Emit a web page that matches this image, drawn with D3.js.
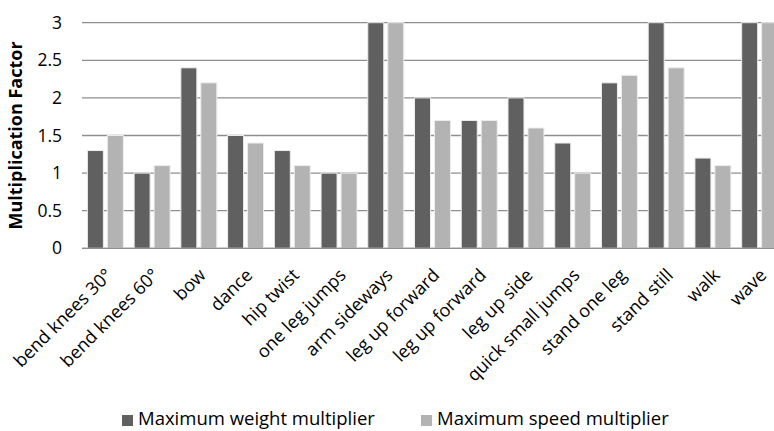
<!DOCTYPE html>
<html>
<head>
<meta charset="utf-8">
<script src="https://cdn.jsdelivr.net/npm/d3@7"></script>
<style>
  body { margin: 0; background: #fff; }
  svg { display: block; font-family: "Open Sans", sans-serif; }
</style>
</head>
<body>
<div id="root"></div>
<script>
// data
const activities = ["bend knees 30°", "bend knees 60°", "bow", "dance", "hip twist", "one leg jumps",
  "arm sideways", "leg up forward", "leg up forward", "leg up side", "quick small jumps",
  "stand one leg", "stand still", "walk", "wave"];
const weightMult = [1.3, 1.0, 2.4, 1.5, 1.3, 1.0, 3.0, 2.0, 1.7, 2.0, 1.4, 2.2, 3.0, 1.2, 3.0];
const speedMult  = [1.5, 1.1, 2.2, 1.4, 1.1, 1.0, 3.0, 1.7, 1.7, 1.6, 1.0, 2.3, 2.4, 1.1, 3.0];
const seriesNames = ["Maximum weight multiplier", "Maximum speed multiplier"];
const yTicks = [0, 0.5, 1, 1.5, 2, 2.5, 3];

const W = 774, H = 431;
const mLeft = 82, mTop = 22.7, plotH = 225.6, plotW = 701;

const colors = ["#606060", "#b3b3b3"];

const svg = d3.select("#root").append("svg")
  .attr("width", W)
  .attr("height", H);

const x = d3.scaleBand()
  .domain(activities.map((d, i) => i))
  .range([mLeft, mLeft + plotW]);

const xGroup = d3.scaleBand()
  .domain([0, 1])
  .range([0, x.bandwidth()])
  .paddingInner(0.2)
  .paddingOuter(0.27);

const y = d3.scaleLinear()
  .domain([0, 3])
  .range([mTop + plotH, mTop]);

// gridlines
svg.append("g")
  .selectAll("line")
  .data(yTicks)
  .enter().append("line")
    .attr("x1", mLeft)
    .attr("x2", mLeft + plotW)
    .attr("y1", d => y(d))
    .attr("y2", d => y(d))
    .attr("stroke", "#8e8e8e")
    .attr("stroke-width", 1.3);

// y labels
const yAxis = svg.append("g")
  .attr("transform", `translate(${mLeft}, 0)`)
  .call(d3.axisLeft(y).tickValues(yTicks).tickSize(0).tickPadding(20).tickFormat(d => d));
yAxis.select(".domain").remove();
yAxis.selectAll("text")
  .attr("font-size", 17.5)
  .attr("fill", "#000")
  .attr("font-family", "Open Sans");

// bars
const rows = activities.map((a, i) => ({i, vals: [weightMult[i], speedMult[i]]}));
svg.append("g")
  .selectAll("g")
  .data(rows)
  .enter().append("g")
    .attr("transform", d => `translate(${x(d.i)},0)`)
    .selectAll("rect")
    .data(d => d.vals.map((v, k) => ({k, v})))
    .enter().append("rect")
      .attr("x", d => xGroup(d.k))
      .attr("y", d => y(d.v))
      .attr("width", xGroup.bandwidth())
      .attr("height", d => y(0) - y(d.v))
      .attr("fill", d => colors[d.k])
      .attr("stroke", "#ececec")
      .attr("stroke-width", 1);

// baseline
svg.append("line")
  .attr("x1", mLeft).attr("x2", mLeft + plotW)
  .attr("y1", y(0)).attr("y2", y(0))
  .attr("stroke", "#8e8e8e")
  .attr("stroke-width", 1.3);

// x labels, rotated
svg.append("g")
  .selectAll("text")
  .data(activities)
  .enter().append("text")
    .attr("transform", (d, i) => `translate(${x(i) + x.bandwidth() / 2 + 8},${y(0) + 28}) rotate(-45)`)
    .attr("text-anchor", "end")
    .attr("font-size", 18)
    .text(d => d);

// y title
svg.append("text")
  .attr("transform", `translate(21.5, ${mTop + plotH / 2}) rotate(-90)`)
  .attr("text-anchor", "middle")
  .attr("font-size", 18)
  .attr("font-weight", "bold")
  .text("Multiplication Factor");

// legend
const legendX = [122, 421];
const legend = svg.append("g")
  .selectAll("g")
  .data(seriesNames)
  .enter().append("g")
    .attr("transform", (d, i) => `translate(${legendX[i]}, 415)`);

legend.append("rect")
  .attr("width", 11)
  .attr("height", 11)
  .attr("fill", (d, i) => colors[i]);

legend.append("text")
  .attr("x", 16)
  .attr("y", 10)
  .attr("font-size", 18.5)
  .text(d => d);
</script>
</body>
</html>
